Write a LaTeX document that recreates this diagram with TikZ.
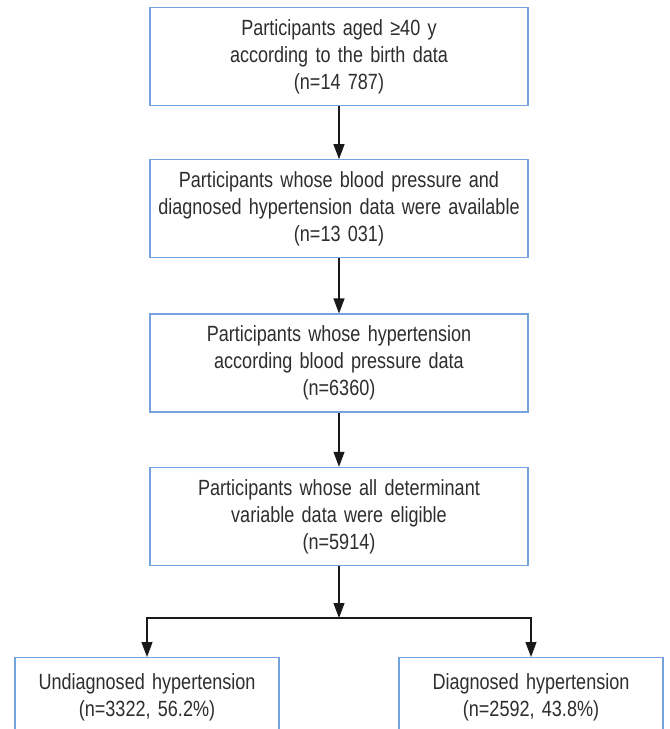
\documentclass[tikz,border=0pt]{standalone}
\usepackage{fontspec}
\setmainfont{Liberation Sans}[FakeStretch=0.82]
\usetikzlibrary{positioning,arrows.meta}

\definecolor{boxblue}{HTML}{74A3DD}
\definecolor{txtgray}{HTML}{2E2E2E}

\tikzset{
    flowbox/.style={draw=boxblue, line width=1.3pt, fill=white, text=txtgray,
        align=center, text width=372pt, minimum width=378pt, minimum height=98pt,
        inner sep=0pt, font=\fontsize{22}{27}\selectfont},
    outbox/.style={flowbox, text width=258pt, minimum width=264pt, minimum height=80pt},
    flowarrow/.style={-{Triangle[width=11pt,length=15pt]}, line width=1.1pt, black!90}
}

\begin{document}
\begin{tikzpicture}[node distance=53pt]
    \useasboundingbox (0,0) rectangle (670pt,-729pt);

    % main chain
    \node[flowbox] (aged) at (339pt,-56.5pt)
        {Participants aged ≥40 y\\according to the birth data\\(n=14 787)};
    \node[flowbox, below=of aged] (bpdata)
        {Participants whose blood pressure and\\diagnosed hypertension data were available\\(n=13 031)};
    \node[flowbox, below=55pt of bpdata] (htn)
        {Participants whose hypertension\\according blood pressure data\\(n=6360)};
    \node[flowbox, below=54pt of htn] (elig)
        {Participants whose all determinant\\variable data were eligible\\(n=5914)};

    % split into two groups
    \coordinate (split) at (339pt,-618pt);
    \node[outbox, anchor=north] (undiag) at (147pt,-657pt)
        {Undiagnosed hypertension\\(n=3322, 56.2\%)};
    \node[outbox, anchor=north] (diag) at (531pt,-657pt)
        {Diagnosed hypertension\\(n=2592, 43.8\%)};

    \draw[flowarrow] (aged) -- (bpdata);
    \draw[flowarrow] (bpdata) -- (htn);
    \draw[flowarrow] (htn) -- (elig);
    \draw[flowarrow] (elig) -- (split);
    \draw[flowarrow] (split) -| (undiag.north);
    \draw[flowarrow] (split) -| (diag.north);
\end{tikzpicture}
\end{document}
